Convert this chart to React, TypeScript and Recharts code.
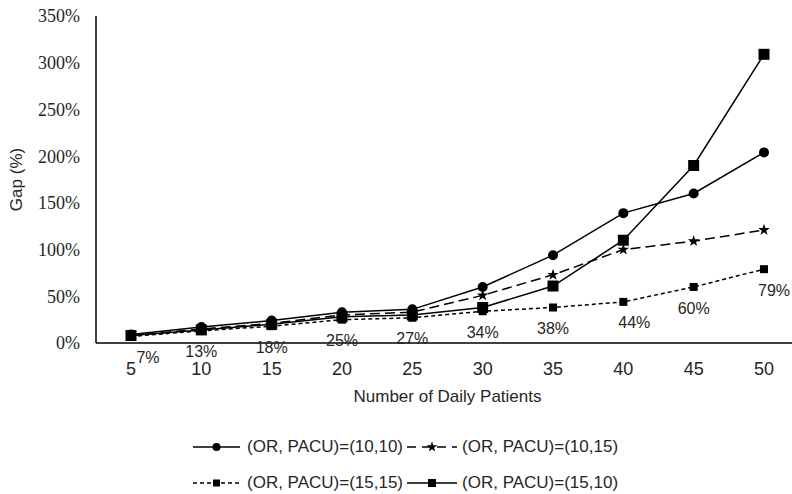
import React from "react";
import { LineChart, Line, XAxis, YAxis, LabelList, Symbols } from "recharts";

const patients = [5, 10, 15, 20, 25, 30, 35, 40, 45, 50];
const or10pacu10 = [9, 17, 24, 33, 36, 60, 94, 139, 160, 204];
const or10pacu15 = [8, 15, 21, 30, 33, 51, 73, 100, 109, 121];
const or15pacu15 = [7, 13, 18, 25, 27, 34, 38, 44, 60, 79];
const or15pacu10 = [8, 14, 20, 28, 30, 38, 61, 110, 190, 309];
const yTicks = [0, 50, 100, 150, 200, 250, 300, 350];

const data = patients.map((p, i) => ({
	name: String(p),
	a: or10pacu10[i],
	b: or10pacu15[i],
	c: or15pacu15[i],
	d: or15pacu10[i],
}));

const sans = "'Liberation Sans', Arial, sans-serif";
const serif = "'Liberation Serif', 'Times New Roman', serif";
const ink = "#000";
const textInk = "#262626";

// labels that were dragged sideways in the original
const labelNudge: Record<number, number> = { 0: 17, 7: 11, 9: 10 };

const circleDot = (props: any) => (
	<circle key={`a-${props.index}`} cx={props.cx} cy={props.cy} r={5} fill={ink} />
);
const starDot = (props: any) => (
	<Symbols key={`b-${props.index}`} cx={props.cx} cy={props.cy} type='star' size={42} fill={ink} stroke='none' />
);
const smallSquare = (props: any) => (
	<rect key={`c-${props.index}`} x={props.cx - 4} y={props.cy - 4} width={8} height={8} fill={ink} />
);
const bigSquare = (props: any) => (
	<rect key={`d-${props.index}`} x={props.cx - 5.5} y={props.cy - 5.5} width={11} height={11} fill={ink} />
);

const gapLabel = (props: any) => {
	const { x, y, value, index } = props;
	return (
		<text
			x={x + (labelNudge[index] || 0)}
			y={y + 13}
			dy='0.85em'
			textAnchor='middle'
			fill={textInk}
			fontSize={16}
			fontFamily={sans}>
			{`${value}%`}
		</text>
	);
};

const LegendIcon = ({ kind }: { kind: string }) => {
	const w = kind === "b" || kind === "d" ? 50 : 47;
	const dash = kind === "b" ? "9 6" : kind === "c" ? "4 3" : undefined;
	return (
		<svg width={w} height={14} style={{ display: "block" }}>
			<line x1={0} y1={7} x2={w} y2={7} stroke={ink} strokeWidth={1.5} strokeDasharray={dash} />
			{kind === "a" && <circle cx={w / 2} cy={7} r={4} fill={ink} />}
			{kind === "b" && <Symbols cx={w / 2} cy={7} type='star' size={36} fill={ink} />}
			{kind === "c" && <rect x={w / 2 - 3.5} y={3.5} width={7} height={7} fill={ink} />}
			{kind === "d" && <rect x={w / 2 - 4} y={3} width={8} height={8} fill={ink} />}
		</svg>
	);
};

const legendRows = [
	[
		{ kind: "a", text: "(OR, PACU)=(10,10)" },
		{ kind: "b", text: "(OR, PACU)=(10,15)" },
	],
	[
		{ kind: "c", text: "(OR, PACU)=(15,15)" },
		{ kind: "d", text: "(OR, PACU)=(15,10)" },
	],
];

export default function App() {
	return (
		<div
			style={{
				position: "absolute",
				left: 0,
				top: 0,
				width: 792,
				height: 494,
				overflow: "hidden",
				background: "#fff",
			}}>
			<LineChart
				width={800}
				height={494}
				data={data}
				margin={{ top: 16, right: 1, left: 0, bottom: 0 }}>
				<XAxis
					dataKey='name'
					height={151}
					padding={{ left: 35, right: 35 }}
					tickLine={false}
					tickMargin={13}
					axisLine={{ stroke: ink, strokeWidth: 1.5 }}
					tick={{ fill: textInk, fontSize: 18, fontFamily: sans }}
					label={{
						value: "Number of Daily Patients",
						position: "insideBottom",
						offset: 92,
						fill: textInk,
						fontSize: 17,
						fontFamily: sans,
					}}
				/>
				<YAxis
					width={96}
					domain={[0, 350]}
					ticks={yTicks}
					interval={0}
					tickLine={false}
					tickMargin={10}
					tickFormatter={(v) => `${v}%`}
					axisLine={{ stroke: ink, strokeWidth: 1.5 }}
					tick={{ fill: textInk, fontSize: 18, fontFamily: serif }}
					label={{
						content: ({ viewBox }: any) => {
							const cy = viewBox.y + viewBox.height / 2;
							return (
								<text
									x={16}
									y={cy}
									transform={`rotate(-90 16 ${cy})`}
									textAnchor='middle'
									dominantBaseline='central'
									fill={textInk}
									fontSize={17}
									fontFamily={sans}>
									Gap (%)
								</text>
							);
						},
					}}
				/>
				<Line
					dataKey='c'
					stroke={ink}
					strokeWidth={1.5}
					strokeDasharray='4 3'
					dot={smallSquare}
					isAnimationActive={false}>
					<LabelList dataKey='c' content={gapLabel} />
				</Line>
				<Line
					dataKey='b'
					stroke={ink}
					strokeWidth={1.5}
					strokeDasharray='10 5'
					dot={starDot}
					isAnimationActive={false}
				/>
				<Line
					dataKey='d'
					stroke={ink}
					strokeWidth={1.5}
					dot={bigSquare}
					isAnimationActive={false}
				/>
				<Line
					dataKey='a'
					stroke={ink}
					strokeWidth={1.5}
					dot={circleDot}
					isAnimationActive={false}
				/>
			</LineChart>
			<div
				style={{
					position: "absolute",
					left: 193,
					top: 436,
					fontFamily: sans,
					fontSize: 17,
					color: textInk,
				}}>
				{legendRows.map((row, r) => (
					<div
						key={r}
						style={{
							display: "flex",
							alignItems: "center",
							height: 21,
							marginBottom: r === 0 ? 15 : 0,
						}}>
						{row.map((item, i) => (
							<div
								key={item.kind}
								style={{
									display: "flex",
									alignItems: "center",
									marginLeft: i === 1 ? 4 : 0,
								}}>
								<LegendIcon kind={item.kind} />
								<span style={{ marginLeft: i === 1 ? 5 : 7, whiteSpace: "nowrap" }}>
									{item.text}
								</span>
							</div>
						))}
					</div>
				))}
			</div>
		</div>
	);
}
